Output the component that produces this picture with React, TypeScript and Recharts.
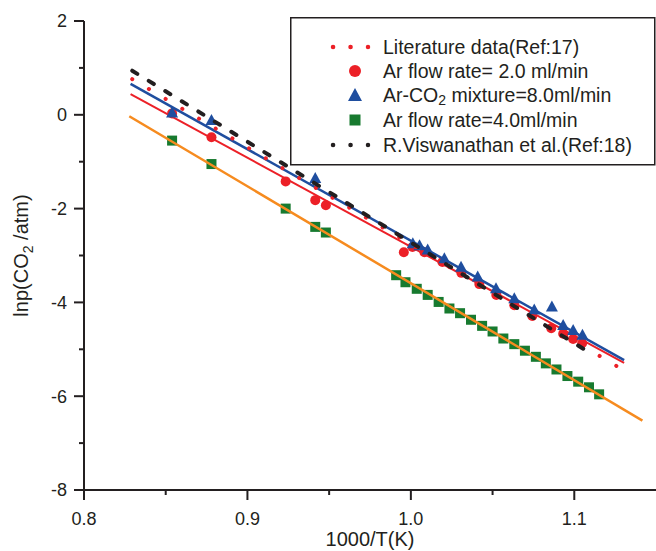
import { ScatterChart, Scatter, XAxis, YAxis } from 'recharts';

// measured points
const arFlow2 = [
  { x: 0.8539, y: 0.03 }, { x: 0.878, y: -0.48 }, { x: 0.9234, y: -1.42 },
  { x: 0.9415, y: -1.82 }, { x: 0.948, y: -1.93 }, { x: 0.9957, y: -2.93 },
  { x: 1.001, y: -2.82 }, { x: 1.0083, y: -2.93 }, { x: 1.0193, y: -3.14 },
  { x: 1.0309, y: -3.37 }, { x: 1.0419, y: -3.61 }, { x: 1.0523, y: -3.84 },
  { x: 1.0633, y: -4.06 }, { x: 1.0743, y: -4.29 }, { x: 1.0859, y: -4.55 },
  { x: 1.0932, y: -4.67 }, { x: 1.0993, y: -4.78 }, { x: 1.1048, y: -4.87 },
];

const arCo2 = [
  { x: 0.8539, y: 0.05 }, { x: 0.878, y: -0.11 }, { x: 0.9415, y: -1.35 },
  { x: 1.0012, y: -2.74 }, { x: 1.0053, y: -2.78 }, { x: 1.0103, y: -2.87 },
  { x: 1.0205, y: -3.06 }, { x: 1.0307, y: -3.24 }, { x: 1.0409, y: -3.45 },
  { x: 1.0521, y: -3.7 }, { x: 1.0633, y: -3.91 }, { x: 1.0755, y: -4.15 },
  { x: 1.0863, y: -4.09 }, { x: 1.0932, y: -4.48 }, { x: 1.0993, y: -4.59 },
  { x: 1.105, y: -4.69 },
];

const arFlow4 = [
  { x: 0.8539, y: -0.55 }, { x: 0.878, y: -1.05 }, { x: 0.9234, y: -2.0 },
  { x: 0.9415, y: -2.39 }, { x: 0.948, y: -2.51 }, { x: 0.991, y: -3.42 },
  { x: 0.9967, y: -3.57 }, { x: 1.0036, y: -3.71 }, { x: 1.0103, y: -3.84 },
  { x: 1.017, y: -3.99 }, { x: 1.0236, y: -4.13 }, { x: 1.0301, y: -4.23 },
  { x: 1.0368, y: -4.37 }, { x: 1.0436, y: -4.5 }, { x: 1.05, y: -4.62 },
  { x: 1.0566, y: -4.77 }, { x: 1.0633, y: -4.89 }, { x: 1.0698, y: -5.03 },
  { x: 1.0765, y: -5.16 }, { x: 1.0826, y: -5.3 }, { x: 1.0891, y: -5.43 },
  { x: 1.0958, y: -5.57 }, { x: 1.1024, y: -5.69 }, { x: 1.109, y: -5.81 },
  { x: 1.1152, y: -5.96 },
];

// straight lines (end points)
const literature = [{ x: 0.8295, y: 0.76 }, { x: 1.127, y: -5.38 }];
const viswanathan = [{ x: 0.8295, y: 0.94 }, { x: 1.107, y: -5.02 }];
const fit2 = [{ x: 0.8285, y: 0.44 }, { x: 1.1305, y: -5.29 }];
const fitCo2 = [{ x: 0.8285, y: 0.66 }, { x: 1.1305, y: -5.23 }];
const fit4 = [{ x: 0.8277, y: -0.03 }, { x: 1.1417, y: -6.52 }];

const xTicks = [0.8, 0.85, 0.9, 0.95, 1.0, 1.05, 1.1];
const yTicks = [-8, -7, -6, -5, -4, -3, -2, -1, 0, 1, 2];

const FONT = '"Liberation Sans", Arial, Helvetica, sans-serif';
const INK = '#231f20';
const RED = '#ec2027';
const BLUE = '#1f4e9f';
const GREEN = '#177a2f';
const ORANGE = '#f68b1f';

const XTick = (props: any) => {
  const { x, y, payload } = props;
  const v = payload.value;
  const major = Math.round(v * 100) % 10 === 0;
  return (
    <g>
      <line x1={x} x2={x} y1={y} y2={y + (major ? 10 : 5)} stroke={INK} strokeWidth={2} />
      {major && (
        <text x={x} y={y + 35} textAnchor="middle" fontSize={18} fill={INK} fontFamily={FONT}>
          {v.toFixed(1)}
        </text>
      )}
    </g>
  );
};

const YTick = (props: any) => {
  const { x, y, payload } = props;
  const v = payload.value;
  const major = v % 2 === 0;
  return (
    <g>
      <line x1={x} x2={x - (major ? 10 : 5)} y1={y} y2={y} stroke={INK} strokeWidth={2} />
      {major && (
        <text x={x - 17} y={y} dy="0.35em" textAnchor="end" fontSize={18} fill={INK} fontFamily={FONT}>
          {v}
        </text>
      )}
    </g>
  );
};

const YLabel = (props: any) => {
  const vb = props.viewBox || {};
  const cy = vb.y + vb.height / 2;
  const x = 28;
  return (
    <text
      x={x}
      y={cy}
      transform={`rotate(-90, ${x}, ${cy})`}
      textAnchor="middle"
      fontSize={20}
      fill={INK}
      fontFamily={FONT}
    >
      lnp(CO<tspan fontSize={14} dy={5}>2</tspan>
      <tspan dy={-5}> /atm)</tspan>
    </text>
  );
};

const XLabel = (props: any) => {
  const vb = props.viewBox || {};
  return (
    <text x={vb.x + vb.width / 2} y={546} textAnchor="middle" fontSize={20} fill={INK} fontFamily={FONT}>
      1000/T(K)
    </text>
  );
};

const Circle = (p: any) => <circle cx={p.cx} cy={p.cy} r={5} fill={RED} />;
const Triangle = (p: any) => (
  <path d={`M${p.cx},${p.cy - 6} L${p.cx + 6},${p.cy + 5} L${p.cx - 6},${p.cy + 5} Z`} fill={BLUE} />
);
const Square = (p: any) => <rect x={p.cx - 5} y={p.cy - 5} width={10} height={10} fill={GREEN} />;
const NoMark = () => <g />;

const Legend = () => {
  const rows = [30, 54, 78, 103, 128];
  const tx = 93;
  const textProps = { x: tx, fontSize: 19.5, fill: INK, fontFamily: FONT, dominantBaseline: 'central' as const };
  return (
    <svg
      width={366}
      height={149}
      style={{ position: 'absolute', left: 290, top: 17 }}
    >
      <rect x={0.75} y={0.75} width={364} height={147} fill="#fff" stroke={INK} strokeWidth={1.5} />
      <line x1={43} x2={78} y1={rows[0]} y2={rows[0]} stroke={RED} strokeWidth={4.5} strokeLinecap="round" strokeDasharray="0.1 17.4" />
      <text {...textProps} y={rows[0]}>Literature data(Ref:17)</text>
      <circle cx={65} cy={rows[1]} r={6} fill={RED} />
      <text {...textProps} y={rows[1]}>Ar flow rate= 2.0 ml/min</text>
      <path d={`M65,${rows[2] - 7} L72,${rows[2] + 6} L58,${rows[2] + 6} Z`} fill={BLUE} />
      <text {...textProps} y={rows[2]}>
        Ar-CO<tspan fontSize={14} dy={5}>2</tspan>
        <tspan dy={-5}> mixture=8.0ml/min</tspan>
      </text>
      <rect x={59.5} y={rows[3] - 5.5} width={11} height={11} fill={GREEN} />
      <text {...textProps} y={rows[3]}>Ar flow rate=4.0ml/min</text>
      <line x1={43} x2={78} y1={rows[4]} y2={rows[4]} stroke={INK} strokeWidth={4.5} strokeLinecap="round" strokeDasharray="0.1 17.4" />
      <text {...textProps} y={rows[4]}>R.Viswanathan et al.(Ref:18)</text>
    </svg>
  );
};

export default function App() {
  return (
    <div style={{ position: 'relative', width: 656, height: 551, background: '#fff' }}>
      <style>{`body{margin:0}`}</style>
      <ScatterChart width={656} height={551} margin={{ top: 21, right: 0, bottom: 0, left: 0 }}>
        <XAxis
          xAxisId={0}
          type="number"
          dataKey="x"
          domain={[0.8, 1.15]}
          ticks={xTicks}
          tick={<XTick />}
          tickLine={false}
          tickSize={0}
          tickMargin={0}
          height={61}
          axisLine={{ stroke: INK, strokeWidth: 2 }}
          allowDataOverflow
          label={<XLabel />}
        />
        <XAxis
          xAxisId="top"
          orientation="top"
          type="number"
          dataKey="x"
          domain={[0.8, 1.15]}
          ticks={xTicks}
          height={0}
          mirror
          tickSize={5}
          tickFormatter={() => ''}
          tickLine={{ stroke: INK, strokeWidth: 1.5 }}
          axisLine={{ stroke: INK, strokeWidth: 2 }}
          allowDataOverflow
        />
        <YAxis
          type="number"
          dataKey="y"
          domain={[-8, 2]}
          ticks={yTicks}
          tick={<YTick />}
          tickLine={false}
          tickSize={0}
          tickMargin={0}
          width={84}
          axisLine={{ stroke: INK, strokeWidth: 2 }}
          allowDataOverflow
          label={<YLabel />}
        />
        <Scatter data={arFlow4} shape={Square} isAnimationActive={false} />
        <Scatter data={fit4} shape={NoMark} line={{ stroke: ORANGE, strokeWidth: 2.5 }} isAnimationActive={false} />
        <Scatter data={arFlow2} shape={Circle} isAnimationActive={false} />
        <Scatter data={fit2} shape={NoMark} line={{ stroke: RED, strokeWidth: 2 }} isAnimationActive={false} />
        <Scatter data={arCo2} shape={Triangle} isAnimationActive={false} />
        <Scatter data={fitCo2} shape={NoMark} line={{ stroke: BLUE, strokeWidth: 2.5 }} isAnimationActive={false} />
        <Scatter
          data={literature}
          shape={NoMark}
          line={{ stroke: RED, strokeWidth: 4, strokeDasharray: '0.1 19.3', strokeLinecap: 'round' }}
          isAnimationActive={false}
        />
        <Scatter
          data={viswanathan}
          shape={NoMark}
          line={{ stroke: INK, strokeWidth: 4, strokeDasharray: '6 13.4', strokeLinecap: 'round' }}
          isAnimationActive={false}
        />
      </ScatterChart>
      <Legend />
    </div>
  );
}
